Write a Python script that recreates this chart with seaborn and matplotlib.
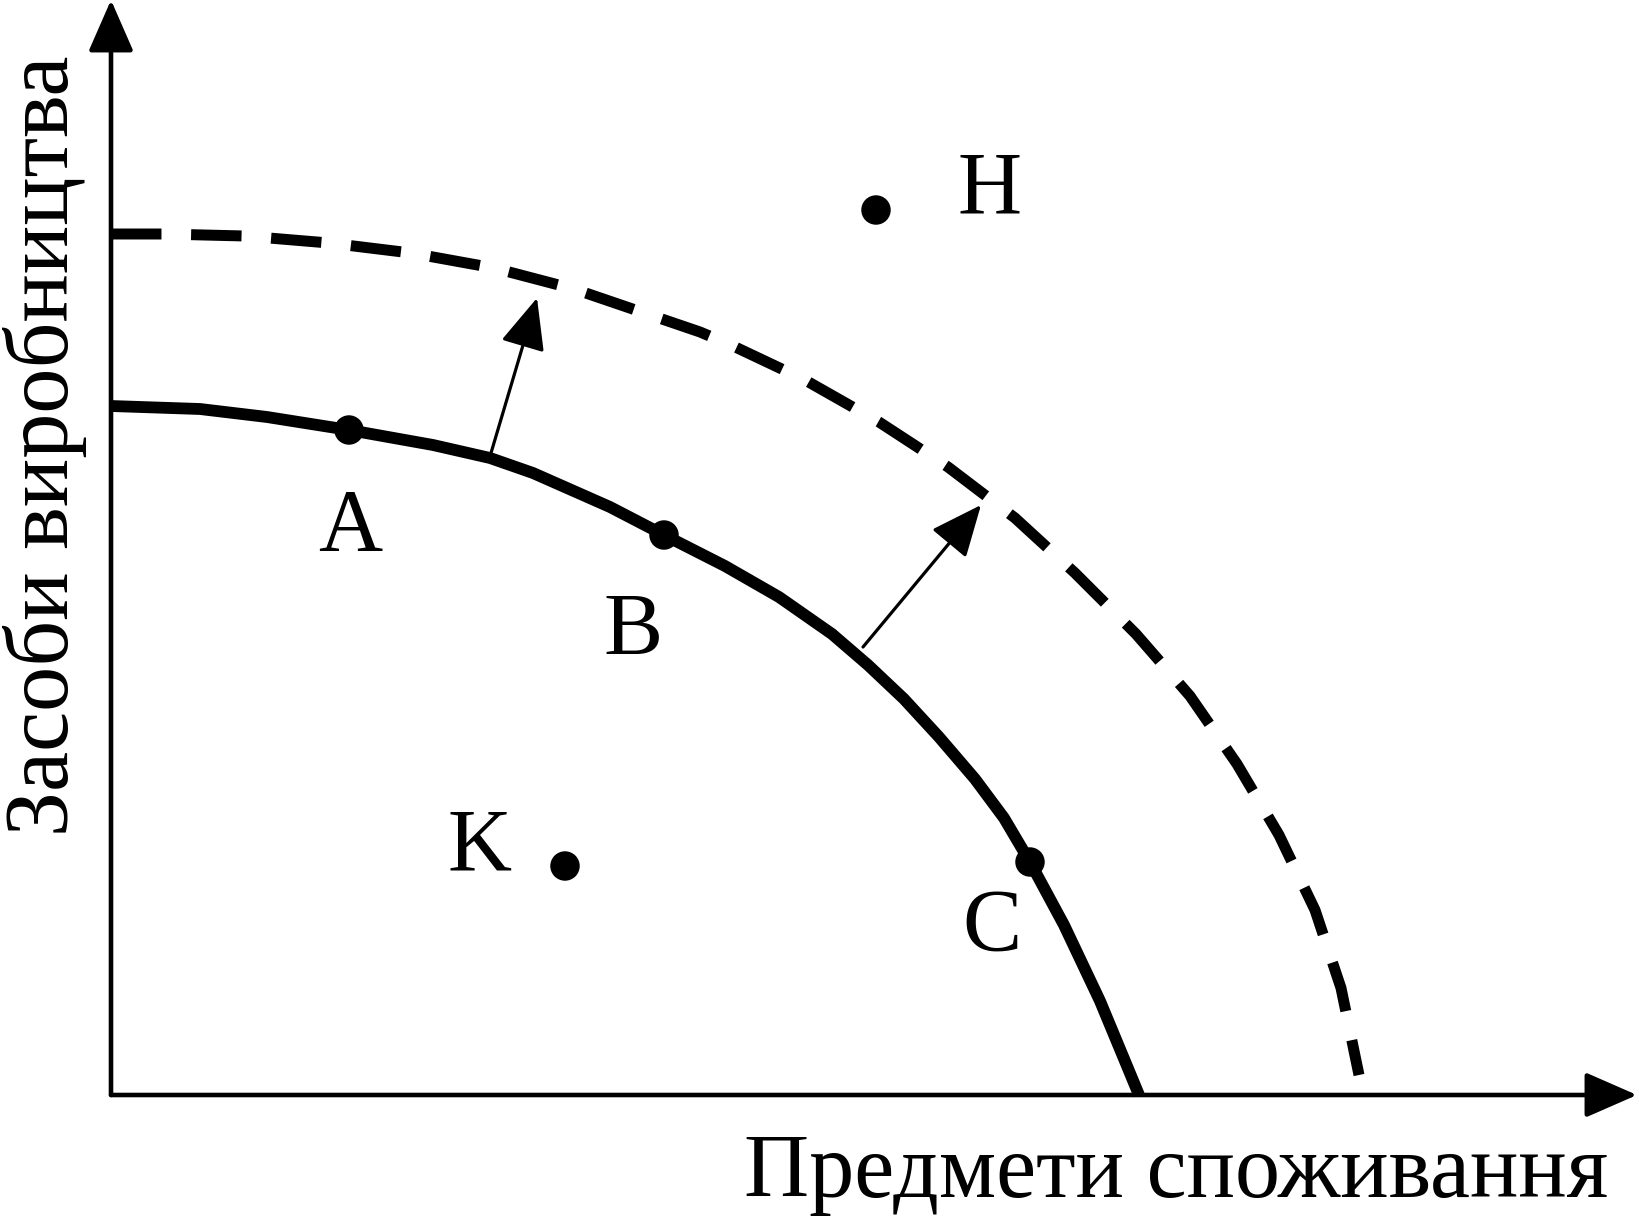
import matplotlib
matplotlib.use("Agg")
import matplotlib.pyplot as plt
import seaborn as sns

# ---- data (units: 1 = 100 px of the reference, origin at axes corner) ----
solid_x = [0.00, 0.89, 1.56, 2.38, 3.22, 3.79, 4.22, 4.99, 5.53, 6.14, 6.68, 7.21,
           7.57, 7.93, 8.28, 8.64, 8.93, 9.19, 9.53, 9.89, 10.16, 10.28]
solid_y = [6.89, 6.86, 6.78, 6.65, 6.50, 6.37, 6.22, 5.88, 5.60, 5.29, 4.98, 4.61,
           4.30, 3.96, 3.58, 3.16, 2.77, 2.33, 1.70, 0.94, 0.29, 0.00]

dashed_x = [0.00, 0.52, 1.34, 2.18, 3.00, 3.83, 4.63, 5.89, 6.20, 6.94, 7.68, 8.37,
            9.04, 9.64, 10.25, 10.79, 11.26, 11.68, 12.04, 12.30, 12.48]
dashed_y = [8.61, 8.61, 8.59, 8.52, 8.42, 8.27, 8.06, 7.63, 7.50, 7.15, 6.73, 6.28,
            5.77, 5.22, 4.61, 3.99, 3.31, 2.60, 1.85, 1.07, 0.20]

point_names = ["A", "B", "C", "K", "H"]
point_x = [2.38, 5.53, 9.19, 4.54, 7.65]
point_y = [6.65, 5.60, 2.33, 2.29, 8.85]

label_x = [2.39, 5.22, 8.81, 3.69, 8.79]
label_y = [5.45, 4.41, 1.45, 2.25, 8.82]

shift_start_x = [3.80, 7.52]
shift_start_y = [6.42, 4.48]
shift_end_x = [4.26, 8.70]
shift_end_y = [7.97, 5.90]

x_axis_title = "Предмети споживання"
y_axis_title = "Засоби виробництва"

# ---- figure ----
sns.set_theme(style="white")
plt.rcParams["font.family"] = ["Liberation Serif", "DejaVu Serif"]

fig = plt.figure(figsize=(16.39, 12.22), dpi=100)
ax = fig.add_axes([0, 0, 1, 1])
ax.set_xlim(-1.11, 15.28)
ax.set_ylim(-1.27, 10.95)
ax.axis("off")

# axes with arrows
axis_style = "-|>,head_length=1.6,head_width=0.7"
ax.annotate("", xy=(0, 10.95), xytext=(0, 0),
            arrowprops=dict(arrowstyle=axis_style, color="black", lw=3.3,
                            shrinkA=0, shrinkB=0, mutation_scale=20))
ax.annotate("", xy=(15.26, 0), xytext=(0, 0),
            arrowprops=dict(arrowstyle=axis_style, color="black", lw=3.3,
                            shrinkA=0, shrinkB=0, mutation_scale=20))

# frontier curves
sns.lineplot(x=solid_x, y=solid_y, sort=False, estimator=None, ax=ax,
             color="black")
solid_line = ax.lines[-1]
solid_line.set_linewidth(8.5)
solid_line.set_solid_capstyle("butt")
solid_line.set_solid_joinstyle("round")

sns.lineplot(x=dashed_x, y=dashed_y, sort=False, estimator=None, ax=ax,
             color="black")
dash_line = ax.lines[-1]
dash_line.set_linewidth(7.9)
dash_line.set_linestyle((0, (4.6, 2.7)))
dash_line.set_dash_capstyle("butt")

# shift arrows
for sx, sy, ex, ey in zip(shift_start_x, shift_start_y, shift_end_x, shift_end_y):
    ax.annotate("", xy=(ex, ey), xytext=(sx, sy),
                arrowprops=dict(arrowstyle="-|>,head_length=1.6,head_width=0.7",
                                color="black", lw=2.3, shrinkA=0, shrinkB=0,
                                mutation_scale=20))

# points
sns.scatterplot(x=point_x, y=point_y, ax=ax, s=450, color="black",
                edgecolor="none", zorder=5, legend=False)

# point labels
for name, lx, ly in zip(point_names, label_x, label_y):
    ax.text(lx, ly, name, fontsize=64, ha="center", va="baseline", color="black")

# axis titles
ax.text(10.65, -1.02, x_axis_title, fontsize=65, ha="center", va="baseline",
        color="black")
ax.text(-0.43, 6.49, y_axis_title, fontsize=65, ha="center", va="baseline",
        rotation=90, rotation_mode="anchor", color="black")

fig.savefig("out.png", dpi=100, facecolor="white")
